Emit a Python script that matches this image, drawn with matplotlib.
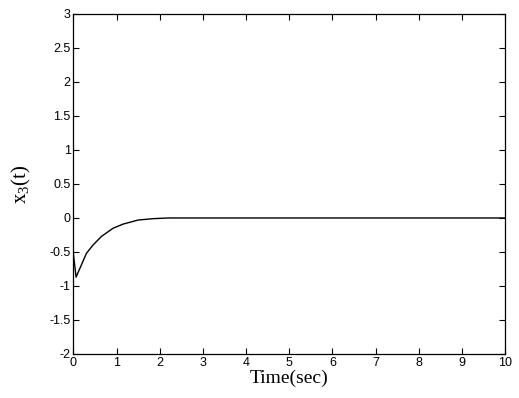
import matplotlib
matplotlib.use("Agg")
import matplotlib.pyplot as plt

plt.rcParams["mathtext.fontset"] = "custom"
plt.rcParams["mathtext.rm"] = "Liberation Serif"
plt.rcParams["mathtext.it"] = "Liberation Serif:italic"

# response of x3
t = [0, 0.06, 0.19, 0.3, 0.45, 0.65, 0.92, 1.15, 1.5, 1.85, 2.2, 3, 4, 5, 6, 7, 8, 9, 10]
x3 = [-0.54, -0.87, -0.68, -0.52, -0.4, -0.27, -0.15, -0.09, -0.03, -0.01, 0,
      0, 0, 0, 0, 0, 0, 0, 0]

xticks = list(range(0, 11))
yticks = [-2, -1.5, -1, -0.5, 0, 0.5, 1, 1.5, 2, 2.5, 3]
ytick_labels = ["-2", "-1.5", "-1", "-0.5", "0", "0.5", "1", "1.5", "2", "2.5", "3"]

fig = plt.figure(figsize=(5.19, 3.98), dpi=100)
ax = fig.add_axes([0.1416, 0.1106, 0.8314, 0.8543])
ax.plot(t, x3, color="black", linewidth=1.0)

ax.set_xlim(0, 10)
ax.set_ylim(-2, 3)
ax.set_xticks(xticks)
ax.set_yticks(yticks)
ax.set_yticklabels(ytick_labels)
ax.tick_params(direction="in", top=True, right=True, length=4, width=0.8,
               labelsize=9, pad=2)
for lab in ax.get_xticklabels() + ax.get_yticklabels():
    lab.set_family("Liberation Sans")
for s in ax.spines.values():
    s.set_linewidth(0.9)

ax.set_xlabel("Time(sec)", family="Liberation Serif", fontsize=14, labelpad=1)
ax.set_ylabel(r"$\mathrm{x_3(t)}$", family="Liberation Serif", fontsize=15)
ax.yaxis.set_label_coords(-0.093, 0.5)

fig.savefig("out.png", dpi=100)
